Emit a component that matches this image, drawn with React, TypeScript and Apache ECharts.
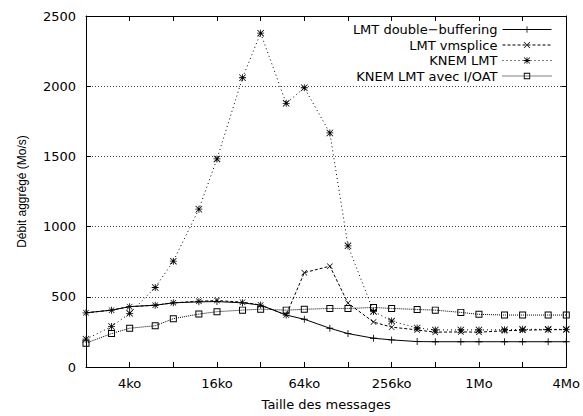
import { useEffect, useRef } from 'react';
import * as echarts from 'echarts';

// Message sizes (bytes) at which each point was measured
const messageSizes = [
  2048, 3072, 4096, 6144, 8192, 12288, 16384, 24576, 32768, 49152, 65536, 98304,
  131072, 196608, 262144, 393216, 524288, 786432, 1048576, 1572864, 2097152, 3145728, 4194304,
];

// Aggregated throughput (Mo/s)
const lmtDoubleBuffering = [386, 405, 430, 440, 457, 464, 466, 457, 441, 370, 340, 276, 238, 205, 193, 181, 180, 180, 180, 180, 180, 180, 180];
const lmtVmsplice = [386, 405, 430, 440, 457, 469, 473, 462, 441, 370, 672, 718, 455, 320, 284, 264, 248, 250, 248, 258, 262, 266, 266];
const knemLmt = [198, 288, 382, 566, 754, 1124, 1482, 2060, 2378, 1878, 1989, 1667, 863, 396, 327, 278, 264, 264, 264, 265, 268, 268, 268];
const knemLmtIoat = [170, 238, 276, 294, 344, 377, 394, 405, 412, 405, 411, 417, 417, 424, 417, 410, 405, 389, 375, 370, 370, 370, 370];

const seriesNames = ['LMT double−buffering', 'LMT vmsplice', 'KNEM LMT', 'KNEM LMT avec I/OAT'];

// X axis ticks (every power of two) and labelled ticks
const xMin = 2048;
const xMax = 4194304;
const xTickValues = [2048, 4096, 8192, 16384, 32768, 65536, 131072, 262144, 524288, 1048576, 2097152, 4194304];
const xLabelValues = [4096, 16384, 65536, 262144, 1048576, 4194304];
const xLabelTexts = ['4ko', '16ko', '64ko', '256ko', '1Mo', '4Mo'];

// Y axis
const yMin = 0;
const yMax = 2500;
const yStep = 500;

const xTitle = 'Taille des messages';
const yTitle = 'Débit aggrégé (Mo/s)';

const PLUS = 'M4.4,0H5.6V10H4.4Z M0,4.4H10V5.6H0Z';
const CROSS = 'M0,0.8L0.8,0L10,9.2L9.2,10Z M0.8,10L0,9.2L9.2,0L10,0.8Z';
const SQUARE = 'M0,0H10V10H0Z M1.4,1.4V8.6H8.6V1.4Z';

const FONT = 'DejaVu Sans';

export default function App() {
  const ref = useRef<HTMLDivElement>(null);

  useEffect(() => {
    document.body.style.margin = '0';
    if (!ref.current) return;
    const chart = echarts.init(ref.current, null, { renderer: 'svg' });

    const toPairs = (vals: number[]) => messageSizes.map((s, i) => [s, vals[i]]);

    const seriesDefs = [
      { name: seriesNames[0], data: lmtDoubleBuffering, symbol: 'path://' + PLUS, dash: 'solid' as any, size: 7 },
      { name: seriesNames[1], data: lmtVmsplice, symbol: 'path://' + CROSS, dash: [3, 2], size: 6 },
      { name: seriesNames[2], data: knemLmt, symbol: 'path://' + PLUS + ' ' + CROSS, dash: [1, 3], size: 7 },
      { name: seriesNames[3], data: knemLmtIoat, symbol: 'path://' + SQUARE, dash: [1, 1], size: 7 },
    ];

    const legendCenters = [29, 44.5, 60, 75.5];

    const axisLineStyle = { color: '#000', width: 1 };
    const tickStyle = { color: '#000', width: 1 };

    chart.setOption({
      animation: false,
      backgroundColor: '#fff',
      grid: { left: 86, right: 13, top: 16, bottom: 47, containLabel: false },
      xAxis: [
        {
          type: 'log',
          logBase: 2,
          min: xMin,
          max: xMax,
          position: 'bottom',
          name: xTitle,
          nameLocation: 'middle',
          nameGap: 31,
          nameTextStyle: { fontFamily: FONT, fontSize: 13, color: '#000' },
          axisLine: { show: true, onZero: false, lineStyle: axisLineStyle },
          axisTick: { show: true, inside: true, length: 5, customValues: xTickValues, lineStyle: tickStyle },
          axisLabel: {
            show: true,
            customValues: xLabelValues,
            formatter: (v: number) => {
              const i = xLabelValues.findIndex((x) => Math.abs(x - v) / x < 1e-6);
              return i >= 0 ? xLabelTexts[i] : '';
            },
            margin: 10,
            fontFamily: FONT,
            fontSize: 13,
            color: '#000',
          },
          splitLine: { show: false },
          minorTick: { show: false },
        },
        {
          type: 'log',
          logBase: 2,
          min: xMin,
          max: xMax,
          position: 'top',
          axisLine: { show: true, onZero: false, lineStyle: axisLineStyle },
          axisTick: { show: true, inside: true, length: 5, customValues: xTickValues, lineStyle: tickStyle },
          axisLabel: { show: false },
          splitLine: { show: false },
        },
      ],
      yAxis: [
        {
          type: 'value',
          min: yMin,
          max: yMax,
          interval: yStep,
          position: 'left',
          name: yTitle,
          nameLocation: 'middle',
          nameGap: 58,
          nameTextStyle: { fontFamily: 'Liberation Sans', fontSize: 12, color: '#000' },
          axisLine: { show: true, onZero: false, lineStyle: axisLineStyle },
          axisTick: { show: true, inside: true, length: 5, lineStyle: tickStyle },
          axisLabel: {
            margin: 10,
            fontFamily: FONT,
            fontSize: 13,
            color: '#000',
            formatter: (v: number) => String(v),
          },
          splitLine: { show: true, lineStyle: { type: [1, 2], color: '#444', width: 1 } },
        },
        {
          type: 'value',
          min: yMin,
          max: yMax,
          interval: yStep,
          position: 'right',
          axisLine: { show: true, onZero: false, lineStyle: axisLineStyle },
          axisTick: { show: true, inside: true, length: 5, lineStyle: tickStyle },
          axisLabel: { show: false },
          splitLine: { show: false },
        },
      ],
      legend: seriesDefs.map((s, i) => ({
        type: 'plain',
        data: [s.name],
        orient: 'vertical',
        right: 31,
        top: legendCenters[i] - 6,
        padding: 0,
        itemGap: 0,
        itemWidth: 49,
        itemHeight: 8,
        align: 'right',
        selectedMode: false,
        lineStyle: { width: 1 },
        textStyle: { fontFamily: FONT, fontSize: 13, lineHeight: 12, color: '#000' },
      })),
      series: seriesDefs.map((s) => ({
        name: s.name,
        type: 'line',
        xAxisIndex: 0,
        yAxisIndex: 0,
        data: toPairs(s.data),
        symbol: s.symbol,
        symbolSize: s.size,
        showAllSymbol: true,
        clip: false,
        lineStyle: { color: '#000', width: 1, type: s.dash },
        itemStyle: { color: '#000', borderWidth: 0 },
        emphasis: { disabled: true },
      })),
    });

    return () => {
      chart.dispose();
    };
  }, []);

  return <div ref={ref} style={{ width: 583, height: 416 }} />;
}
